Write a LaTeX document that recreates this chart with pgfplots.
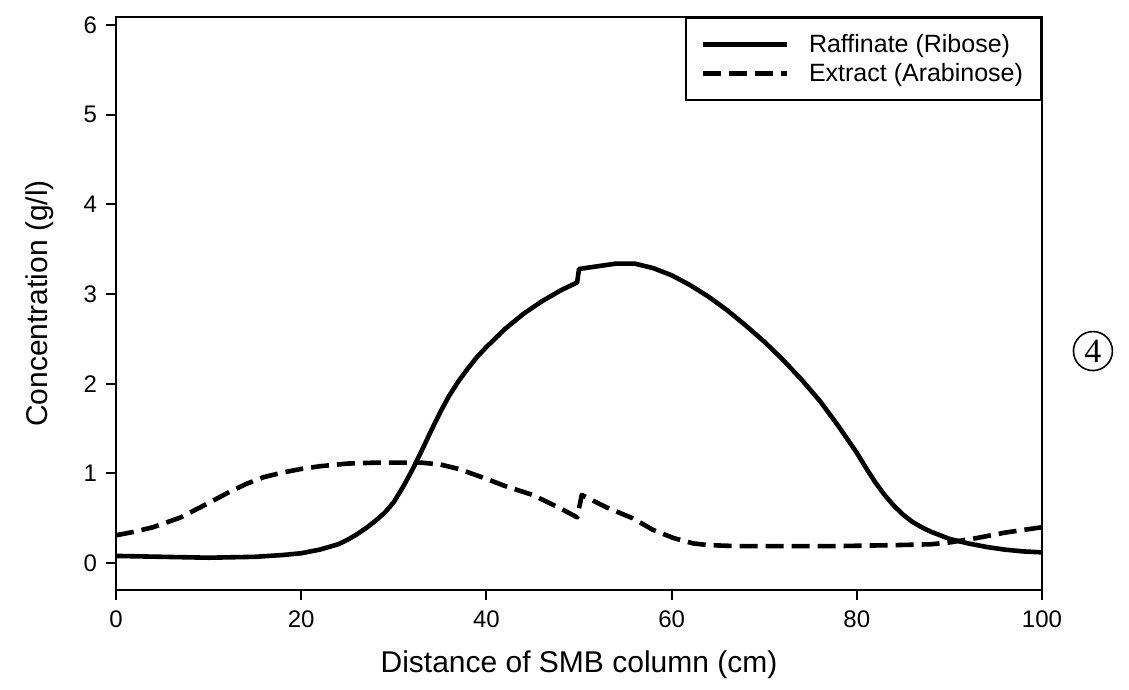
\documentclass[border=0pt]{standalone}
\usepackage{fontspec}
\setmainfont{Liberation Sans}
\newfontfamily\seriffont{Liberation Serif}
\usepackage{pgfplots}
\pgfplotsset{compat=1.18}

\begin{document}
\begin{tikzpicture}
\useasboundingbox (-58pt,-50pt) rectangle (506.5pt,295pt);
\begin{axis}[
    at={(0pt,0pt)}, anchor=south west,
    scale only axis, clip=false,
    width=463pt, height=286.5pt,
    xmin=0, xmax=100, ymin=-0.3, ymax=6.09,
    xtick={0,20,...,100}, ytick={0,1,...,6},
    tick align=outside, major tick length=5pt,
    xtick pos=bottom, ytick pos=left,
    axis line style={line width=1pt},
    tick style={line width=1pt, black},
    /pgf/number format/assume math mode=true,
    ticklabel style={font=\fontsize{12}{14}\selectfont},
    xticklabel style={yshift=-2pt},
    yticklabel style={xshift=-1pt},
    xlabel={Distance of SMB column (cm)},
    ylabel={Concentration (g/l)},
    label style={font=\fontsize{15}{18}\selectfont},
    xlabel style={at={(axis description cs:0.5,-0.131)}, anchor=center},
    ylabel style={at={(axis description cs:-0.082,0.5)}, anchor=center},
    legend style={at={(1,1)}, anchor=north east, draw=black, line width=1pt,
        font=\fontsize{12.5}{14}\selectfont, inner xsep=7pt, inner ysep=6pt,
        row sep=0pt, cells={anchor=west}},
    legend image code/.code={\draw[#1] (0pt,0pt) -- (42pt,0pt);},
]
\addplot[black, line width=2.3pt, line join=round] coordinates {
(0,0.08) (5,0.07) (10,0.06) (15,0.07) (18,0.09) (20,0.11) (22,0.15) (24,0.21)
(25,0.26) (26,0.32) (27,0.39) (28,0.47) (29,0.56) (30,0.68) (31,0.85) (32,1.04)
(33,1.25) (34,1.47) (35,1.68) (36,1.87) (37,2.03) (38,2.17) (39,2.30) (40,2.41)
(42,2.61) (44,2.78) (46,2.92) (48,3.04) (49.8,3.13) (50,3.28) (52,3.31) (54,3.34)
(56,3.34) (58,3.29) (60,3.21) (62,3.10) (64,2.97) (66,2.82) (68,2.65) (70,2.47)
(72,2.27) (74,2.05) (76,1.81) (78,1.53) (80,1.23) (81,1.06) (82,0.90) (83,0.76)
(84,0.64) (85,0.54) (86,0.46) (87,0.40) (88,0.35) (90,0.27) (92,0.22) (94,0.18)
(96,0.15) (98,0.13) (100,0.12)
};
\addlegendentry{\hspace{8pt}Raffinate (Ribose)\hspace{12pt}}
\addplot[black, line width=2.3pt, dash pattern=on 9pt off 4pt, line join=round] coordinates {
(0,0.31) (2,0.35) (4,0.40) (7,0.51) (10,0.67) (12,0.78) (14,0.88) (16,0.96)
(18,1.01) (20,1.05) (22,1.08) (25,1.11) (28,1.12) (31,1.12) (33,1.12) (35,1.10)
(37,1.05) (40,0.94) (42,0.86) (45,0.76) (48,0.61) (49.8,0.51) (50.3,0.76) (53,0.62)
(55.8,0.50) (58,0.37) (60.2,0.28) (62.3,0.22) (64,0.20) (67,0.19) (72,0.19)
(78,0.19) (84,0.20) (88,0.21) (90,0.23) (93,0.28) (96,0.34) (100,0.40)
};
\addlegendentry{\hspace{8pt}Extract (Arabinose)\hspace{12pt}}
\node[draw, circle, line width=0.8pt, minimum size=19.5pt, inner sep=0pt,
      font=\fontsize{17}{18}\selectfont\seriffont]
  at (axis description cs:1.055,0.417) {4};
\end{axis}
\end{tikzpicture}
\end{document}
